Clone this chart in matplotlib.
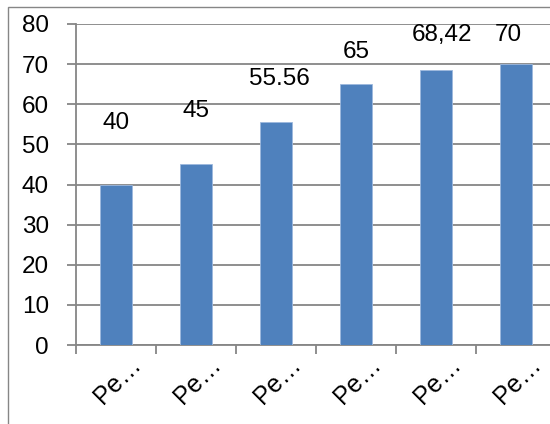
import matplotlib.pyplot as plt
import matplotlib.transforms as mtransforms
import numpy as np
from matplotlib.patches import Rectangle

categories = ["Pe…", "Pe…", "Pe…", "Pe…", "Pe…", "Pe…"]
values = [40, 45, 55.56, 65, 68.42, 70]
value_labels = ["40", "45", "55.56", "65", "68,42", "70"]
# where each value label sits (data units) and its sideways nudge
label_heights = [55.4, 58.3, 66.3, 73.1, 77.3, 77.3]
label_shift = [0.0, 0.0, 0.04, 0.0, 0.075, -0.1]

plt.rcParams["font.family"] = ["Liberation Sans", "DejaVu Sans"]
grey = "#868686"
blue = "#4F81BD"
fs = 17.5

fig = plt.figure(figsize=(5.5, 4.24), dpi=100)
ax = fig.add_axes([76 / 550, 1 - 345 / 424, 480 / 550, 321 / 424])

x = np.arange(len(values)) + 0.5
ax.bar(x, values, width=0.39, color=blue, edgecolor="#9DB9DE", linewidth=0.6, zorder=3)

for xi, lab, h, dx in zip(x, value_labels, label_heights, label_shift):
    ax.text(xi + dx, h, lab, ha="center", va="center", fontsize=fs, color="black", zorder=4)

ax.set_xlim(0, len(values))
ax.set_ylim(0, 80)
ax.set_yticks(np.arange(0, 81, 10))
ax.yaxis.grid(True, color=grey, linewidth=1.3, zorder=0)
ax.tick_params(axis="y", length=6.5, width=1.3, color=grey, labelsize=fs, pad=13)

ax.set_xticks(np.arange(0, len(values) + 1), minor=True)
ax.set_xticks(x)
ax.set_xticklabels(categories, rotation=45, ha="right", va="top",
                   rotation_mode="anchor", fontsize=fs + 0.5)
ax.tick_params(axis="x", which="major", length=0, pad=5)
ax.tick_params(axis="x", which="minor", length=6.5, width=1.3, color=grey)
offset = mtransforms.ScaledTranslation(13 / 100, 0, fig.dpi_scale_trans)
for lbl in ax.get_xticklabels():
    lbl.set_transform(lbl.get_transform() + offset)

for side in ["top", "right"]:
    ax.spines[side].set_visible(False)
for side in ["left", "bottom"]:
    ax.spines[side].set_color(grey)
    ax.spines[side].set_linewidth(1.3)

# chart area border
fig.add_artist(Rectangle((8 / 550, -0.05), 1.0, 1.05 - 7 / 424,
                         transform=fig.transFigure, fill=False,
                         edgecolor=grey, linewidth=1.0))

fig.savefig("out.png", dpi=100)
